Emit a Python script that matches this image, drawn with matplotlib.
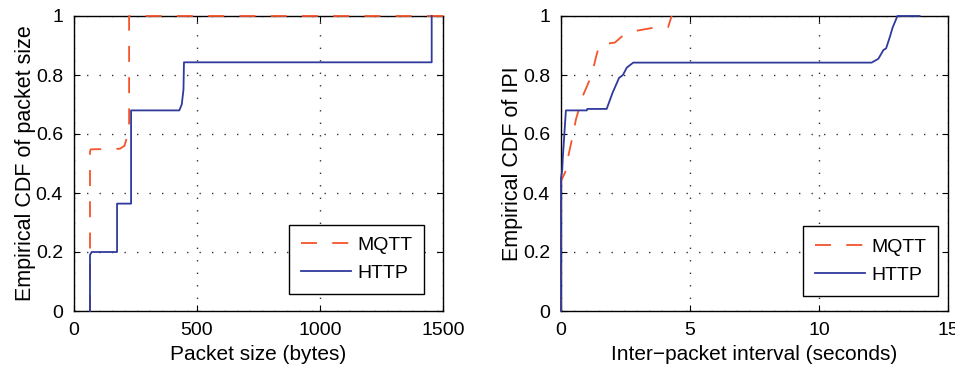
import matplotlib
matplotlib.use('Agg')
import matplotlib.pyplot as plt

plt.rcParams['font.family'] = ['Liberation Sans', 'DejaVu Sans']
plt.rcParams['lines.scale_dashes'] = False

# packet size CDF (bytes)
mqtt_size_x = [65, 65, 68, 187, 205, 214, 224, 224, 1500]
mqtt_size_y = [0, 0.54, 0.548, 0.55, 0.56, 0.585, 0.6, 1.0, 1.0]
http_size_x = [65, 65, 72, 175, 175, 232, 232, 428, 438, 445, 447, 447, 1454, 1454]
http_size_y = [0, 0.19, 0.2, 0.2, 0.364, 0.364, 0.68, 0.68, 0.70, 0.75, 0.843, 0.843, 0.843, 1.0]

# inter-packet interval CDF (seconds)
mqtt_ipi_x = [0, 0, 0.16, 0.27, 0.47, 0.58, 0.85, 1.19, 1.36, 1.48, 1.7, 2.09, 2.35, 2.93, 3.57, 4.15, 4.29]
mqtt_ipi_y = [0, 0.44, 0.47, 0.52, 0.6, 0.65, 0.73, 0.8, 0.862, 0.9, 0.905, 0.91, 0.93, 0.95, 0.96, 0.962, 1.0]
http_ipi_x = [0, 0, 0.05, 0.07, 0.19, 1.0, 1.02, 1.77, 2.0, 2.25, 2.4, 2.55, 2.8, 12.04, 12.3, 12.5, 12.6, 12.75, 12.85, 13.04, 13.9]
http_ipi_y = [0, 0.45, 0.48, 0.52, 0.68, 0.68, 0.685, 0.685, 0.74, 0.79, 0.80, 0.825, 0.842, 0.842, 0.855, 0.885, 0.89, 0.93, 0.96, 1.0, 1.0]

red = '#F5532A'
blue = '#2F3A9C'

fig = plt.figure(figsize=(9.55, 3.67), dpi=100)
ax1 = fig.add_axes([74/955, 56/367, 369/955, 295/367])
ax2 = fig.add_axes([561/955, 56/367, 387/955, 295/367])

def style(ax, xlim, xticks, xlabel, ylabel, leg_anchor):
    ax.set_xlim(xlim)
    ax.set_ylim(0, 1)
    ax.set_xticks(xticks)
    ax.set_yticks([0, 0.2, 0.4, 0.6, 0.8, 1])
    ax.set_yticklabels(['0', '0.2', '0.4', '0.6', '0.8', '1'])
    ax.grid(True, linestyle=(0, (1, 8)), color='#333333', linewidth=1.0)
    ax.tick_params(direction='in', top=True, right=True, labelsize=14, length=4, pad=8)
    ax.set_xlabel(xlabel, fontsize=15, labelpad=4)
    ax.set_ylabel(ylabel, fontsize=15.5, labelpad=0)
    for s in ax.spines.values():
        s.set_linewidth(1.0)
    leg = ax.legend(loc='lower right', fontsize=14, fancybox=False, framealpha=1,
                    edgecolor='black', handlelength=2.6, borderpad=0.6,
                    labelspacing=0.55, handletextpad=0.3, borderaxespad=0,
                    bbox_to_anchor=leg_anchor)
    leg.get_frame().set_linewidth(1.0)

ax1.plot(mqtt_size_x, mqtt_size_y, color=red, lw=1.3, dashes=(11.5, 11), label='MQTT', clip_on=False, zorder=3)
ax1.plot(http_size_x, http_size_y, color=blue, lw=1.3, label='HTTP', clip_on=False, zorder=3)
style(ax1, (0, 1500), [0, 500, 1000, 1500], 'Packet size (bytes)',
      'Empirical CDF of packet size', (0.948, 0.058))

ax2.plot(mqtt_ipi_x, mqtt_ipi_y, color=red, lw=1.3, dashes=(11.5, 11), label='MQTT', clip_on=False, zorder=3)
ax2.plot(http_ipi_x, http_ipi_y, color=blue, lw=1.3, label='HTTP', clip_on=False, zorder=3)
style(ax2, (0, 15), [0, 5, 10, 15], 'Inter\u2212packet interval (seconds)',
      'Empirical CDF of IPI', (0.974, 0.052))

fig.savefig('out.png', dpi=100)
